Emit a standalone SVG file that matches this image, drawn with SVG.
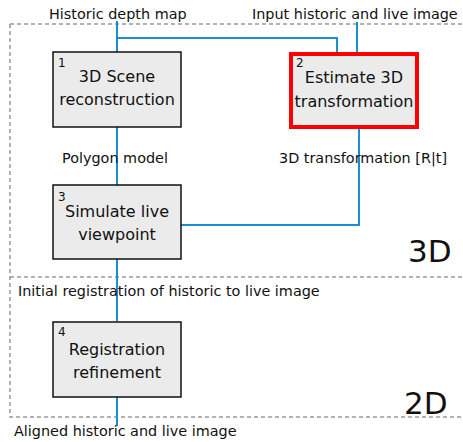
<svg xmlns="http://www.w3.org/2000/svg" width="463" height="442" viewBox="0 0 463 442">
  <style>
    text { font-family: "DejaVu Sans", Verdana, sans-serif; fill: #111; }
    .lbl { font-size: 14.4px; }
    .box { fill: #ebebeb; stroke: #111; stroke-width: 1.5; }
    .hot { fill: #ebebeb; stroke: #ff0000; stroke-width: 4; }
    .title { font-size: 16px; text-anchor: middle; }
    .num { font-size: 12px; }
    .wire { fill: none; stroke: #1a8fd0; stroke-width: 2; }
    .frame { fill: none; stroke: #999; stroke-width: 1.5; stroke-dasharray: 4 3; }
    .big { font-size: 31px; }
  </style>

  <!-- dashed region frames -->
  <g id="regions">
    <path class="frame" d="M10,24 H463 M10,24 V417 H463 M10,277 H463"/>
    <text class="big" x="408" y="262">3D</text>
    <text class="big" x="404" y="414">2D</text>
  </g>

  <!-- connectors -->
  <g id="connectors">
    <path class="wire" d="M117,21 V52"/>
    <path class="wire" d="M117,38 H337 V52"/>
    <path class="wire" d="M357,22 V52"/>
    <path class="wire" d="M117,127 V185"/>
    <path class="wire" d="M359,128 V225 H181"/>
    <path class="wire" d="M117,259 V321"/>
    <path class="wire" d="M117,397 V426"/>
  </g>

  <!-- edge labels -->
  <g id="labels" class="lbl">
    <text x="49" y="19">Historic depth map</text>
    <text x="252" y="19">Input historic and live image</text>
    <text x="62" y="163">Polygon model</text>
    <text x="279" y="163">3D transformation [R|t]</text>
    <text x="18" y="296">Initial registration of historic to live image</text>
    <text x="14" y="436">Aligned historic and live image</text>
  </g>

  <g id="node1">
    <rect class="box" x="53" y="52" width="128" height="75"/>
    <text class="num" x="58" y="67">1</text>
    <text class="title" x="117" y="82">3D Scene</text>
    <text class="title" x="117" y="105">reconstruction</text>
  </g>

  <g id="node2">
    <rect class="hot" x="291" y="54" width="126" height="73"/>
    <text class="num" x="296" y="67">2</text>
    <text class="title" x="354" y="83">Estimate 3D</text>
    <text class="title" x="354" y="107">transformation</text>
  </g>

  <g id="node3">
    <rect class="box" x="53" y="185" width="128" height="74"/>
    <text class="num" x="58" y="201">3</text>
    <text class="title" x="117" y="217">Simulate live</text>
    <text class="title" x="117" y="240">viewpoint</text>
  </g>

  <g id="node4">
    <rect class="box" x="53" y="322" width="128" height="75"/>
    <text class="num" x="58" y="336">4</text>
    <text class="title" x="117" y="355">Registration</text>
    <text class="title" x="117" y="378">refinement</text>
  </g>
</svg>
